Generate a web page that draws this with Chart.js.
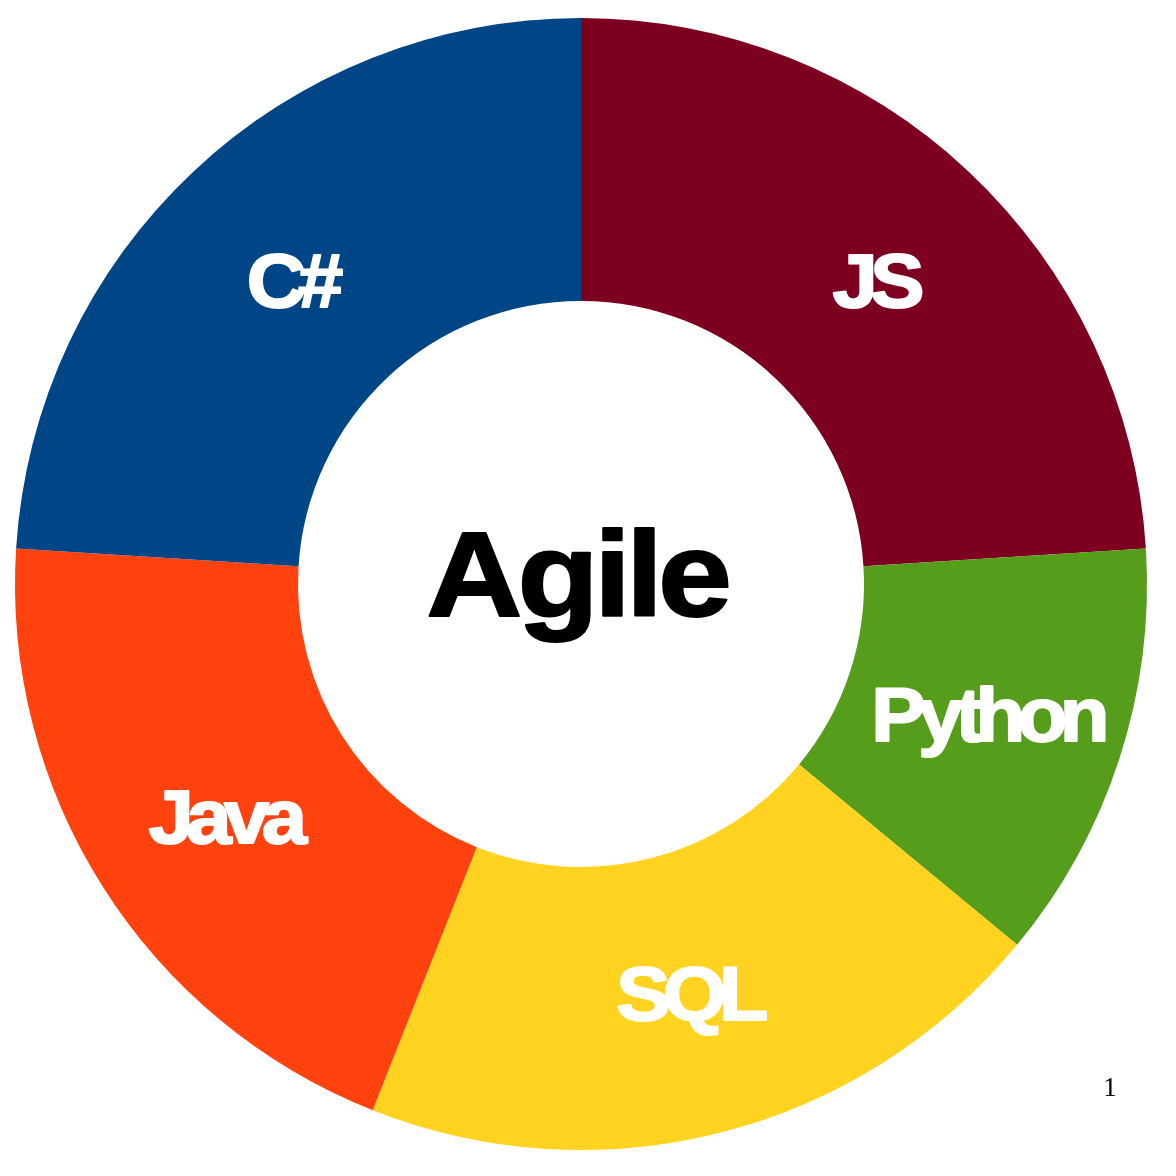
<!DOCTYPE html>
<html><head><meta charset="utf-8">
<script src="https://cdn.jsdelivr.net/npm/chart.js@4/dist/chart.umd.min.js"></script>
<style>html,body{margin:0;padding:0;background:#fff;overflow:hidden}#wrap{width:1176px;height:1176px;position:relative}</style>
</head><body><div id="wrap"><canvas id="c" width="1176" height="1176"></canvas></div>
<script>
const categories = ['JS', 'Python', 'SQL', 'Java', 'C#'];
const values = [24, 12, 20, 20, 24];
const colors = ['#7e0021', '#579d1c', '#ffd320', '#ff420e', '#004586'];
const centerTitle = 'Agile';
const pageNumber = '1';

function drawInkCentered(ctx, text, cx, cy, font, color, sx, ls, sw) {
  ctx.save();
  ctx.font = font;
  ctx.letterSpacing = ls + 'px';
  ctx.fillStyle = color;
  ctx.strokeStyle = color;
  ctx.lineWidth = sw;
  ctx.lineJoin = 'round';
  ctx.textAlign = 'left';
  ctx.textBaseline = 'alphabetic';
  const m = ctx.measureText(text);
  const inkW = m.actualBoundingBoxLeft + m.actualBoundingBoxRight;
  const inkH = m.actualBoundingBoxAscent + m.actualBoundingBoxDescent;
  ctx.translate(cx, cy);
  ctx.scale(sx, 1);
  const tx = -inkW / 2 + m.actualBoundingBoxLeft;
  const ty = -inkH / 2 + m.actualBoundingBoxAscent;
  ctx.fillText(text, tx, ty);
  if (sw > 0) ctx.strokeText(text, tx, ty);
  ctx.restore();
}

const labelPlugin = {
  id: 'labels',
  afterDatasetsDraw(chart) {
    const ctx = chart.ctx;
    const meta = chart.getDatasetMeta(0);
    meta.data.forEach((arc, i) => {
      const p = arc.getProps(['x', 'y', 'startAngle', 'endAngle', 'innerRadius', 'outerRadius'], true);
      const mid = (p.startAngle + p.endAngle) / 2;
      const r = (p.innerRadius + p.outerRadius) / 2;
      const px = p.x + Math.cos(mid) * r;
      const py = p.y + Math.sin(mid) * r;
      drawInkCentered(ctx, chart.data.labels[i], px + 6, py + 6, 'bold 76px "Liberation Sans", Arial, sans-serif', '#ffffff', 1.07, -7, 2);
    });
    const a0 = meta.data[0].getProps(['x', 'y'], true);
    drawInkCentered(ctx, centerTitle, a0.x - 2, a0.y + 1, 'bold 121px "Liberation Sans", Arial, sans-serif', '#000000', 1.1, -4.5, 2);
    ctx.save();
    ctx.font = '27px "Liberation Serif", "Times New Roman", serif';
    ctx.fillStyle = '#000000';
    ctx.textAlign = 'center';
    ctx.textBaseline = 'alphabetic';
    ctx.fillText(pageNumber, chart.chartArea.right - 37, chart.chartArea.bottom - 54);
    ctx.restore();
  }
};

new Chart(document.getElementById('c'), {
  type: 'doughnut',
  data: {
    labels: categories,
    datasets: [{ data: values, backgroundColor: colors, borderWidth: 0, hoverOffset: 0 }]
  },
  options: {
    responsive: false,
    animation: false,
    devicePixelRatio: 1,
    cutout: '50%',
    layout: { padding: { left: 15, right: 29, top: 18, bottom: 26 } },
    plugins: { legend: { display: false }, tooltip: { enabled: false } },
    events: []
  },
  plugins: [labelPlugin]
});
</script>
</body></html>
